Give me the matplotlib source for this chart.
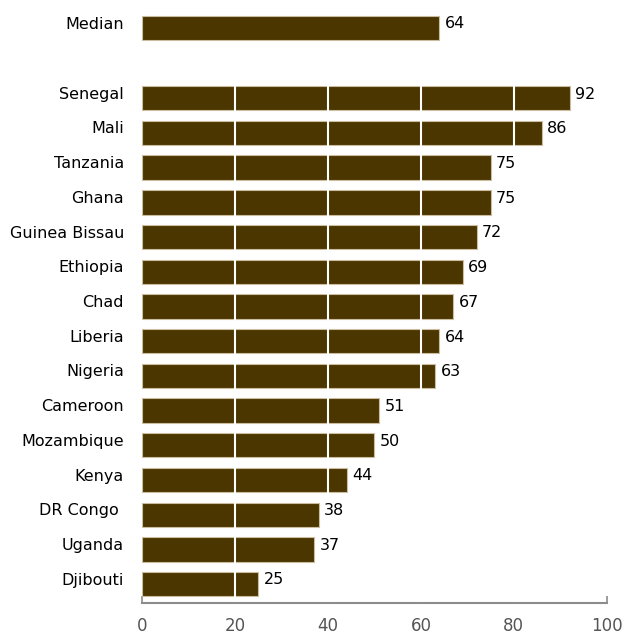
import matplotlib
matplotlib.use("Agg")
import matplotlib.pyplot as plt
import matplotlib.transforms as mtransforms

countries = ["Senegal", "Mali", "Tanzania", "Ghana", "Guinea Bissau", "Ethiopia",
             "Chad", "Liberia", "Nigeria", "Cameroon", "Mozambique", "Kenya",
             "DR Congo ", "Uganda", "Djibouti"]
values = [92, 86, 75, 75, 72, 69, 67, 64, 63, 51, 50, 44, 38, 37, 25]
median_label = "Median"
median_value = 64
xticks = [0, 20, 40, 60, 80, 100]

plt.rcParams['font.family'] = ['DejaVu Sans']
barcol = '#4b3600'
edgecol = '#cbbd9f'

fig = plt.figure(figsize=(6.23, 6.35), dpi=100)
ax = fig.add_axes([0.228, 0.050, 0.746, 0.950])

ypos = list(range(len(countries)))
median_y = -2.02
ax.barh(ypos, values, height=0.7, color=barcol, edgecolor=edgecol, linewidth=0.8, zorder=2)
ax.barh([median_y], [median_value], height=0.7, color=barcol, edgecolor=edgecol, linewidth=0.8, zorder=2)

# white grid lines only through the country bars
ax.vlines(xticks[1:-1], -0.5, len(countries) - 0.5, colors='white', linewidth=1.5, zorder=3)

for y, v in zip(ypos, values):
    ax.text(v + 1.2, y - 0.12, str(v), va='center', ha='left', fontsize=11.5, color='black')
ax.text(median_value + 1.2, median_y - 0.12, str(median_value), va='center', ha='left', fontsize=11.5)

ax.set_yticks(ypos + [median_y])
ax.set_yticklabels(countries + [median_label], fontsize=11.5)
ax.tick_params(axis='y', length=0, pad=13)
shift = mtransforms.ScaledTranslation(0, 4 / 100, fig.dpi_scale_trans)
for lab in ax.get_yticklabels():
    lab.set_va('center')
    lab.set_transform(lab.get_transform() + shift)

ax.set_xlim(0, 100)
ax.set_ylim(14.55, -2.83)
ax.set_xticks(xticks)
ax.tick_params(axis='x', direction='in', length=5, width=1.2, color='#8c8c8c',
               labelcolor='#555555', labelsize=12, pad=10)
for s in ['top', 'right', 'left']:
    ax.spines[s].set_visible(False)
ax.spines['bottom'].set_color('#8c8c8c')
ax.spines['bottom'].set_linewidth(1.5)

fig.savefig("out.png", dpi=100)
